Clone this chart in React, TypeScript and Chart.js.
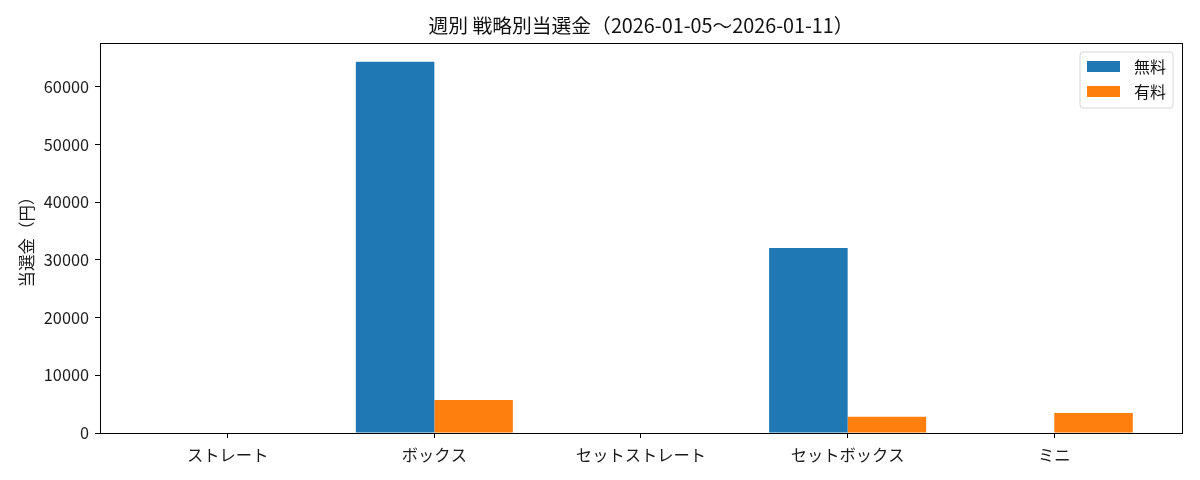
import { useEffect, useRef } from 'react'
import { Chart, registerables } from 'chart.js'

Chart.register(...registerables)

const FONT = "'Noto Sans CJK JP', 'Noto Sans', sans-serif"

const title = '週別 戦略別当選金（2026-01-05〜2026-01-11）'
const yTitle = '当選金（円）'
const categories = ['ストレート', 'ボックス', 'セットストレート', 'セットボックス', 'ミニ']
const seriesNames = ['無料', '有料']
const freeValues = [0, 64300, 0, 32050, 0]
const paidValues = [0, 5720, 0, 2820, 3470]
const yTicks = [0, 10000, 20000, 30000, 40000, 50000, 60000]
const colors = ['#1f77b4', '#ff7f0e']

// title, full axes frame and the legend box, matplotlib style
const decorPlugin = {
  id: 'decor',
  afterDraw(chart: Chart) {
    const { ctx, chartArea } = chart
    ctx.save()
    ctx.strokeStyle = '#000'
    ctx.lineWidth = 1
    ctx.strokeRect(chartArea.left + 0.5, chartArea.top + 0.5, chartArea.right - chartArea.left, chartArea.bottom - chartArea.top)

    ctx.fillStyle = '#111'
    ctx.font = `19.8px ${FONT}`
    ctx.textAlign = 'center'
    ctx.textBaseline = 'middle'
    ctx.fillText(title, (chartArea.left + chartArea.right) / 2, 25)

    // legend
    const lx = chartArea.right - 102
    const ly = chartArea.top + 9
    ctx.beginPath()
    ctx.roundRect(lx, ly, 93, 56, 3)
    ctx.fillStyle = 'rgba(255,255,255,0.8)'
    ctx.fill()
    ctx.strokeStyle = '#d6d6d6'
    ctx.stroke()
    ctx.font = `16px ${FONT}`
    ctx.textAlign = 'left'
    chart.data.datasets.forEach((ds, i) => {
      const y = ly + 9 + i * 25
      ctx.fillStyle = ds.backgroundColor as string
      ctx.fillRect(lx + 7, y, 33, 11)
      ctx.fillStyle = '#111'
      ctx.fillText(ds.label as string, lx + 54, y + 6)
    })
    ctx.restore()
  },
}

export default function App() {
  const canvasRef = useRef<HTMLCanvasElement>(null)
  const chartRef = useRef<Chart | null>(null)

  useEffect(() => {
    document.body.style.margin = '0'
    if (!canvasRef.current) return
    if (chartRef.current) chartRef.current.destroy()

    chartRef.current = new Chart(canvasRef.current, {
      type: 'bar',
      data: {
        datasets: [freeValues, paidValues].map((vals, i) => ({
          label: seriesNames[i],
          data: vals.map((v, j) => ({ x: j, y: v })),
          backgroundColor: colors[i],
          borderWidth: 0,
          categoryPercentage: 0.76,
          barPercentage: 1,
        })),
      },
      options: {
        responsive: true,
        maintainAspectRatio: false,
        animation: false,
        font: { family: FONT },
        layout: { padding: { left: 0, top: 43, right: 18, bottom: 0 } },
        plugins: {
          legend: { display: false },
          tooltip: { enabled: false },
        },
        scales: {
          x: {
            type: 'linear',
            min: -0.618,
            max: 4.618,
            offset: false,
            afterBuildTicks: (scale: any) => {
              scale.ticks = categories.map((_, i) => ({ value: i }))
            },
            afterFit: (scale: any) => {
              scale.height = 47
            },
            grid: { offset: false, drawOnChartArea: false, drawTicks: true, tickLength: 5, color: '#000' },
            border: { display: true, color: '#000' },
            ticks: {
              color: '#1a1a1a',
              font: { size: 16.3, family: FONT },
              padding: 7,
              maxRotation: 0,
              autoSkip: false,
              callback: (v: any) => categories[v] ?? '',
            },
          },
          y: {
            min: 0,
            max: 67550,
            afterBuildTicks: (scale: any) => {
              scale.ticks = yTicks.map((v) => ({ value: v }))
            },
            afterFit: (scale: any) => {
              scale.width = 100
            },
            grid: { drawOnChartArea: false, drawTicks: true, tickLength: 5, color: '#000' },
            border: { display: true, color: '#000' },
            title: {
              display: true,
              text: yTitle,
              color: '#1a1a1a',
              font: { size: 16.5, family: FONT },
              padding: { top: 17, bottom: 0 },
            },
            ticks: {
              color: '#1a1a1a',
              font: { size: 16.3, family: FONT },
              padding: 6,
              callback: (v: any) => String(v),
            },
          },
        },
      },
      plugins: [decorPlugin],
    })

    return () => {
      if (chartRef.current) {
        chartRef.current.destroy()
        chartRef.current = null
      }
    }
  }, [])

  return (
    <div style={{ width: 1200, height: 480, position: 'relative' }}>
      <canvas ref={canvasRef}></canvas>
    </div>
  )
}
